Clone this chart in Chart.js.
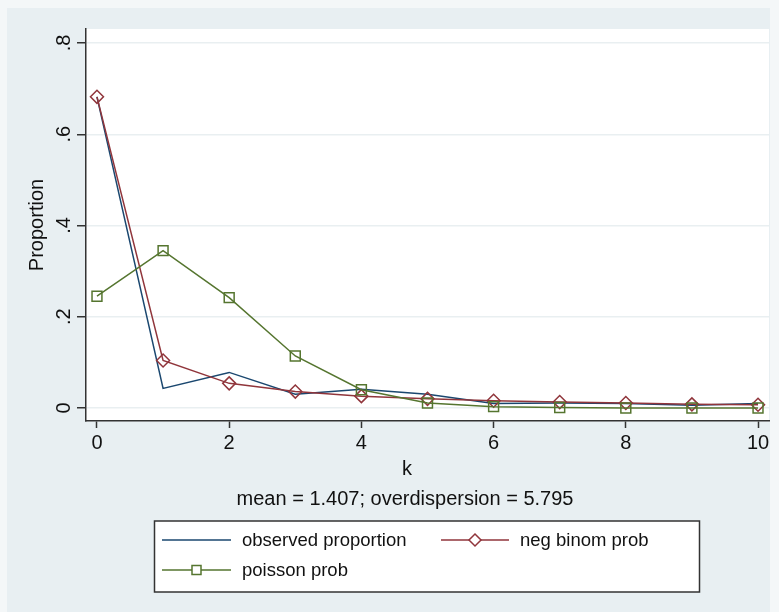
<!DOCTYPE html>
<html>
<head>
<meta charset="utf-8">
<script src="https://cdn.jsdelivr.net/npm/chart.js@4.4.1/dist/chart.umd.min.js"></script>
<style>
  html, body { margin: 0; padding: 0; background: #f4f7f8; }
  canvas { display: block; }
</style>
</head>
<body>
<canvas id="chart" width="779" height="612"></canvas>
<script>
// values
const kValues = [0, 1, 2, 3, 4, 5, 6, 7, 8, 9, 10];
const observedProp = [0.682, 0.043, 0.078, 0.030, 0.041, 0.030, 0.010, 0.011, 0.010, 0.006, 0.010];
const negBinomProb = [0.682, 0.104, 0.054, 0.036, 0.026, 0.020, 0.016, 0.013, 0.011, 0.008, 0.007];
const poissonProb = [0.245, 0.345, 0.242, 0.114, 0.040, 0.011, 0.003, 0.001, 0.000, 0.000, 0.000];

const xTickValues = [0, 2, 4, 6, 8, 10];
const yTickValues = [0, 0.2, 0.4, 0.6, 0.8];
const yTickLabels = ['0', '.2', '.4', '.6', '.8'];

const seriesNames = ['observed proportion', 'neg binom prob', 'poisson prob'];
const noteText = 'mean = 1.407; overdispersion = 5.795';

const NAVY = '#1a476f';
const MAROON = '#90353b';
const GREEN = '#55752f';
const FONT = '"Liberation Sans", Arial, Helvetica, sans-serif';

const toPoints = (vals) => kValues.map((k, i) => ({ x: k, y: vals[i] }));

// figure background + white plot region
const backdrop = {
  id: 'backdrop',
  beforeDraw(chart) {
    const { ctx, chartArea: a } = chart;
    ctx.save();
    ctx.fillStyle = '#f4f7f8';
    ctx.fillRect(0, 0, chart.width, chart.height);
    ctx.fillStyle = '#e8eff2';
    ctx.fillRect(7, 8, 763, 604);
    ctx.fillStyle = '#ffffff';
    ctx.fillRect(a.left, a.top, a.right - a.left, a.bottom - a.top);
    ctx.restore();
  },
};

function drawDiamond(ctx, x, y, r) {
  ctx.beginPath();
  ctx.moveTo(x, y - r);
  ctx.lineTo(x + r, y);
  ctx.lineTo(x, y + r);
  ctx.lineTo(x - r, y);
  ctx.closePath();
  ctx.stroke();
}

function drawSquare(ctx, x, y, h) {
  ctx.beginPath();
  ctx.rect(x - h, y - h, 2 * h, 2 * h);
  ctx.stroke();
}

// rotated y tick labels, x title, note and boxed legend (Stata look)
const annotations = {
  id: 'annotations',
  afterDraw(chart) {
    const { ctx } = chart;
    const ys = chart.scales.y;
    ctx.save();
    ctx.fillStyle = '#111';
    ctx.font = '20px ' + FONT;

    yTickValues.forEach((v, i) => {
      const py = ys.getPixelForValue(v);
      ctx.save();
      ctx.translate(69.5, py);
      ctx.rotate(-Math.PI / 2);
      ctx.textAlign = 'center';
      ctx.textBaseline = 'alphabetic';
      ctx.fillText(yTickLabels[i], 0, 0);
      ctx.restore();
    });

    ctx.textAlign = 'center';
    ctx.textBaseline = 'alphabetic';
    ctx.fillText('k', 407, 475);
    ctx.fillText(noteText, 405, 505);

    // legend box
    ctx.fillStyle = '#ffffff';
    ctx.fillRect(154, 521, 545, 71);
    ctx.strokeStyle = '#333';
    ctx.lineWidth = 1.5;
    ctx.strokeRect(154.5, 521, 545, 71);

    ctx.lineWidth = 1.5;
    const row1 = 540;
    const row2 = 570;

    ctx.strokeStyle = NAVY;
    ctx.beginPath();
    ctx.moveTo(162, row1);
    ctx.lineTo(231, row1);
    ctx.stroke();

    ctx.strokeStyle = MAROON;
    ctx.beginPath();
    ctx.moveTo(441, row1);
    ctx.lineTo(509, row1);
    ctx.stroke();
    ctx.fillStyle = '#ffffff';
    ctx.beginPath();
    ctx.moveTo(475, row1 - 6);
    ctx.lineTo(481, row1);
    ctx.lineTo(475, row1 + 6);
    ctx.lineTo(469, row1);
    ctx.closePath();
    ctx.fill();
    drawDiamond(ctx, 475, row1, 6);

    ctx.strokeStyle = GREEN;
    ctx.beginPath();
    ctx.moveTo(162, row2);
    ctx.lineTo(231, row2);
    ctx.stroke();
    ctx.fillStyle = '#ffffff';
    ctx.fillRect(192, row2 - 4.5, 9, 9);
    drawSquare(ctx, 196.5, row2, 4.5);

    ctx.fillStyle = '#111';
    ctx.font = '18.5px ' + FONT;
    ctx.textAlign = 'left';
    ctx.textBaseline = 'middle';
    ctx.fillText(seriesNames[0], 242, row1 + 1);
    ctx.fillText(seriesNames[1], 520, row1 + 1);
    ctx.fillText(seriesNames[2], 242, row2 + 1);
    ctx.restore();
  },
};

new Chart(document.getElementById('chart'), {
  type: 'line',
  data: {
    datasets: [
      {
        label: seriesNames[0],
        data: toPoints(observedProp),
        borderColor: NAVY,
        borderWidth: 1.5,
        pointRadius: 0,
        order: 3,
      },
      {
        label: seriesNames[1],
        data: toPoints(negBinomProb),
        borderColor: MAROON,
        borderWidth: 1.5,
        pointStyle: 'rectRot',
        pointRadius: 6.5,
        pointBorderWidth: 1.5,
        pointBackgroundColor: 'rgba(0,0,0,0)',
        pointBorderColor: MAROON,
        order: 2,
      },
      {
        label: seriesNames[2],
        data: toPoints(poissonProb),
        borderColor: GREEN,
        borderWidth: 1.5,
        pointStyle: 'rect',
        pointRadius: 7,
        pointBorderWidth: 1.5,
        pointBackgroundColor: 'rgba(0,0,0,0)',
        pointBorderColor: GREEN,
        order: 1,
      },
    ],
  },
  options: {
    responsive: false,
    animation: false,
    layout: { padding: { left: 0, top: 29, right: 10, bottom: 132 } },
    plugins: {
      legend: { display: false },
      tooltip: { enabled: false },
    },
    scales: {
      x: {
        type: 'linear',
        min: -0.166,
        max: 10.166,
        afterBuildTicks: (scale) => {
          scale.ticks = xTickValues.map((v) => ({ value: v }));
        },
        afterFit: (scale) => {
          scale.height = 59;
        },
        grid: {
          drawOnChartArea: false,
          tickLength: 7,
          tickColor: '#333',
          tickWidth: 1.5,
        },
        border: { display: true, color: '#333', width: 1.5 },
        ticks: {
          color: '#111',
          font: { family: FONT, size: 20 },
          padding: 3,
          maxRotation: 0,
          callback: (v) => String(v),
        },
      },
      y: {
        type: 'linear',
        min: -0.0285,
        max: 0.8307,
        afterBuildTicks: (scale) => {
          scale.ticks = yTickValues.map((v) => ({ value: v }));
        },
        afterFit: (scale) => {
          scale.width = 86;
        },
        grid: {
          color: '#e9eff1',
          lineWidth: 1.5,
          tickLength: 9,
          tickColor: '#333',
          tickWidth: 1.5,
        },
        border: { display: true, color: '#333', width: 1.5 },
        ticks: { display: false },
        title: {
          display: true,
          text: 'Proportion',
          color: '#111',
          font: { family: FONT, size: 20, lineHeight: 1.2 },
          padding: { top: 25, bottom: 0 },
        },
      },
    },
  },
  plugins: [backdrop, annotations],
});
</script>
</body>
</html>
